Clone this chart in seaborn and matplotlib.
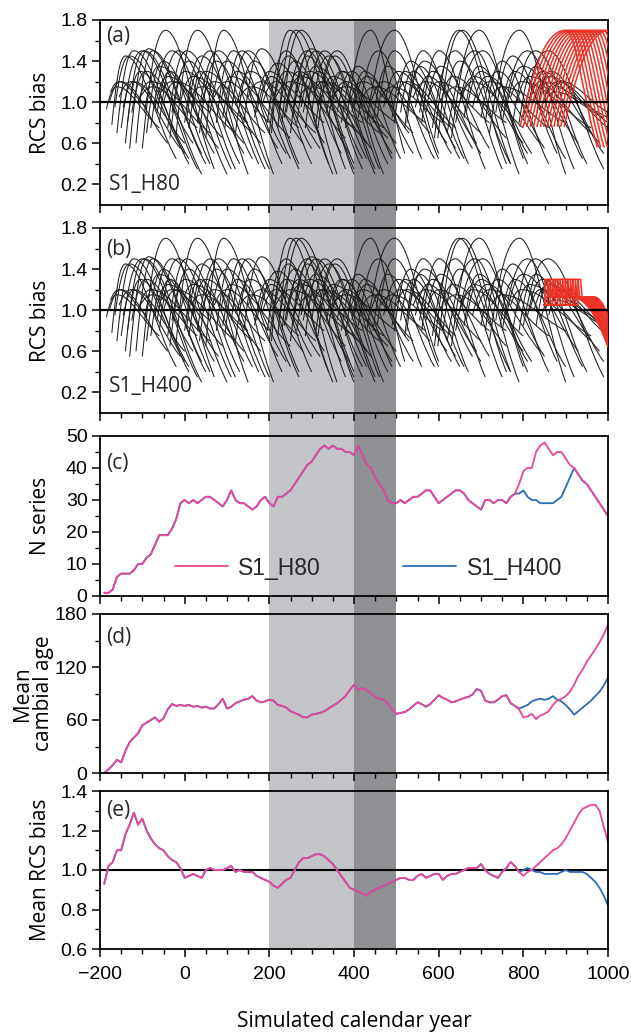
import matplotlib
matplotlib.use("Agg")
import matplotlib.pyplot as plt
import pandas as pd
import seaborn as sns
from matplotlib.path import Path
from matplotlib.patches import PathPatch, Rectangle
from matplotlib.lines import Line2D
from matplotlib.transforms import blended_transform_factory
from matplotlib.ticker import MultipleLocator, FixedLocator, FormatStrFormatter

# -------------------- data --------------------
# individual series in (a)/(b): start, peak and end of each RCS-bias arc
arc_t0 = [-185, -178, -172, -165, -160, -155, -150, -140, -130, -125,
          -115, -110, -100, -95, -80, -70, -60, -50, -40, -30,
          -20, -10, 0, 10, 20, 30, 40, 50, 60, 75,
          85, 95, 110, 125, 140, 150, 165, 180, 195, 205,
          210, 220, 225, 230, 240, 245, 255, 260, 265, 275,
          285, 290, 300, 310, 320, 335, 345, 360, 380, 400,
          410, 430, 440, 455, 470, 480, 495, 510, 520, 530,
          545, 560, 570, 585, 590, 598, 605, 620, 630, 640,
          650, 665, 680, 700, 720, 735, 750, 760, 775, 785,
          800, 810, 825, 840, 850, 860, -175, -145, -105, -55,
          15, 70, 130, 185, 215, 270, 305, 350, 390, 420,
          465, 500, 540, 575, 615, 655, 690, 725, 770, 815,
          -135, -90, -65, -35, 5, 35, 90, 120, 170, 200,
          235, 250, 280, 315, 340, 370, 395, 445, 490, 525,
          555, 610, 660, 710, 745, 790, 830]
arc_v0 = [0.93, 1.0, 0.78, 0.95, 0.7, 1.05, 0.75, 0.6, 0.55, 0.9,
          0.6, 1.0, 0.55, 0.9, 0.75, 0.95, 0.8, 1.0, 0.75, 0.9,
          0.7, 1.0, 0.8, 0.75, 0.95, 0.8, 1.0, 0.65, 0.9, 0.8,
          1.0, 0.75, 0.9, 1.0, 0.8, 1.05, 0.85, 1.0, 0.8, 0.7,
          1.0, 0.75, 0.95, 0.8, 0.9, 1.05, 0.85, 1.0, 0.8, 0.95,
          0.75, 1.05, 0.9, 0.8, 1.0, 0.9, 0.95, 0.9, 0.75, 0.95,
          0.85, 0.8, 1.0, 0.85, 0.95, 1.0, 0.8, 0.9, 0.75, 1.0,
          0.95, 0.8, 0.9, 0.75, 0.65, 0.65, 1.0, 0.7, 0.65, 0.8,
          1.0, 0.9, 0.95, 0.85, 0.7, 0.9, 0.8, 0.95, 0.8, 1.0,
          0.85, 0.95, 1.0, 0.9, 1.0, 0.95, 1.1, 0.95, 1.05, 1.1,
          1.05, 1.05, 1.05, 1.0, 1.05, 1.05, 1.1, 1.05, 1.0, 1.05,
          1.05, 1.05, 1.05, 1.05, 1.05, 1.05, 1.0, 1.05, 1.05, 1.0,
          0.8, 0.7, 0.9, 0.65, 0.85, 0.7, 0.85, 0.7, 0.9, 0.7,
          0.85, 0.7, 0.9, 0.75, 0.85, 0.8, 0.9, 0.8, 0.85, 0.8,
          0.9, 0.8, 0.85, 0.8, 0.85, 0.8, 0.85]
arc_tp = [-160, -150, -140, -130, -120, -125, -100, -95, -85, -90,
          -75, -80, -45, -60, -30, -40, -15, -20, 5, 0,
          30, 20, 40, 60, 50, 80, 70, 92, 100, 115,
          110, 135, 150, 155, 182, 180, 200, 220, 240, 249,
          240, 263, 260, 275, 290, 275, 300, 295, 310, 310,
          330, 320, 340, 360, 350, 370, 380, 395, 439, 430,
          458, 496, 470, 496, 505, 510, 534, 540, 563, 567,
          575, 601, 605, 639, 648, 656, 635, 686, 696, 705,
          685, 700, 715, 740, 791, 775, 810, 800, 829, 815,
          858, 845, 860, 880, 875, 890, -155, -120, -75, -30,
          40, 100, 160, 215, 250, 300, 330, 380, 420, 450,
          490, 525, 570, 600, 640, 680, 720, 750, 795, 840,
          -105, -50, -35, 10, 35, 75, 125, 165, 205, 245,
          270, 290, 315, 355, 375, 410, 425, 480, 520, 555,
          585, 650, 695, 750, 780, 830, 865]
arc_vp = [1.15, 1.2, 1.45, 1.45, 1.5, 1.2, 1.5, 1.5, 1.52, 1.3,
          1.5, 1.2, 1.7, 1.35, 1.5, 1.25, 1.5, 1.2, 1.5, 1.3,
          1.7, 1.25, 1.45, 1.5, 1.3, 1.5, 1.2, 1.7, 1.4, 1.5,
          1.25, 1.5, 1.5, 1.3, 1.52, 1.2, 1.3, 1.38, 1.5, 1.7,
          1.3, 1.7, 1.4, 1.7, 1.5, 1.25, 1.52, 1.3, 1.5, 1.35,
          1.5, 1.2, 1.45, 1.5, 1.25, 1.3, 1.2, 1.3, 1.7, 1.25,
          1.5, 1.7, 1.2, 1.5, 1.3, 1.2, 1.4, 1.3, 1.5, 1.4,
          1.25, 1.5, 1.35, 1.5, 1.7, 1.7, 1.25, 1.5, 1.7, 1.5,
          1.25, 1.3, 1.25, 1.3, 1.7, 1.45, 1.5, 1.35, 1.5, 1.25,
          1.5, 1.3, 1.25, 1.2, 1.1, 1.2, 1.2, 1.2, 1.15, 1.2,
          1.15, 1.2, 1.15, 1.2, 1.2, 1.15, 1.2, 1.15, 1.2, 1.15,
          1.15, 1.2, 1.2, 1.2, 1.15, 1.2, 1.2, 1.15, 1.2, 1.2,
          1.3, 1.4, 1.3, 1.4, 1.3, 1.4, 1.3, 1.4, 1.25, 1.45,
          1.3, 1.45, 1.3, 1.45, 1.3, 1.35, 1.3, 1.35, 1.3, 1.35,
          1.3, 1.4, 1.35, 1.4, 1.3, 1.35, 1.3]
arc_t1 = [-60, -40, -20, 0, 10, -10, 30, 40, 50, 20,
          40, 60, 70, 80, 100, 90, 110, 120, 130, 140,
          150, 160, 160, 175, 180, 200, 190, 210, 220, 230,
          250, 250, 270, 280, 300, 310, 320, 330, 350, 360,
          380, 380, 370, 400, 400, 410, 420, 430, 430, 440,
          450, 460, 450, 470, 480, 490, 500, 490, 520, 530,
          560, 600, 580, 600, 620, 630, 650, 640, 670, 680,
          690, 710, 720, 750, 760, 770, 760, 790, 800, 810,
          800, 820, 840, 850, 900, 880, 920, 930, 950, 960,
          990, 980, 1000, 1000, 990, 1000, -90, 0, 30, 60,
          150, 200, 270, 330, 400, 420, 470, 500, 540, 570,
          610, 640, 700, 720, 760, 800, 860, 900, 960, 1000,
          10, 60, 70, 120, 140, 190, 240, 270, 300, 340,
          390, 400, 420, 460, 480, 510, 540, 590, 630, 660,
          700, 770, 810, 860, 900, 940, 990]
arc_v1 = [0.75, 0.6, 0.45, 0.5, 0.4, 0.55, 0.35, 0.3, 0.4, 0.6,
          0.5, 0.7, 0.35, 0.55, 0.3, 0.65, 0.35, 0.7, 0.4, 0.6,
          0.3, 0.7, 0.45, 0.4, 0.6, 0.35, 0.7, 0.3, 0.55, 0.4,
          0.65, 0.45, 0.35, 0.6, 0.4, 0.7, 0.55, 0.6, 0.3, 0.3,
          0.65, 0.35, 0.5, 0.3, 0.4, 0.7, 0.35, 0.6, 0.45, 0.55,
          0.3, 0.7, 0.35, 0.3, 0.65, 0.5, 0.6, 0.45, 0.5, 0.7,
          0.45, 0.5, 0.7, 0.45, 0.6, 0.75, 0.45, 0.55, 0.4, 0.55,
          0.6, 0.35, 0.55, 0.35, 0.4, 0.4, 0.65, 0.3, 0.45, 0.4,
          0.6, 0.5, 0.6, 0.55, 0.3, 0.5, 0.35, 0.6, 0.4, 0.7,
          0.35, 0.6, 0.75, 0.8, 0.85, 0.9, 0.95, 0.6, 0.75, 0.9,
          0.8, 0.8, 0.75, 0.8, 0.75, 0.8, 0.75, 0.8, 0.7, 0.8,
          0.8, 0.75, 0.7, 0.8, 0.8, 0.75, 0.75, 0.8, 0.75, 0.85,
          0.45, 0.4, 0.5, 0.35, 0.5, 0.35, 0.5, 0.4, 0.55, 0.4,
          0.5, 0.35, 0.45, 0.35, 0.4, 0.45, 0.5, 0.45, 0.5, 0.45,
          0.5, 0.4, 0.5, 0.4, 0.45, 0.45, 0.5]

# red series in (a): hiatus 80 yrs
red_a_t0 = [792, 800, 808, 816, 824, 832, 840, 848, 856, 864, 872, 880, 888, 896]
red_a_v0 = 0.76
red_a_tp = [900, 908, 916, 924, 932, 940, 948, 956, 964, 972, 980, 988, 996, 1004]
red_a_vp = 1.70
red_a_t1 = [975, 983, 991, 999, 1007, 1015, 1023, 1031, 1039, 1047, 1055, 1063, 1071, 1079]
red_a_v1 = 0.56

# red series in (b): hiatus 400 yrs
red_b_start = 848
red_b_base, red_b_top, red_b_shelf = 1.05, 1.30, 1.13
red_b_jump = [851, 857, 863, 869, 875, 881, 887, 893, 899, 905, 911, 917, 923, 929]
red_b_drop = [915, 919, 923, 927, 931, 935, 939, 943, 947, 951, 955, 959, 963, 967]
red_b_end = [0.64, 0.66, 0.68, 0.70, 0.72, 0.74, 0.76, 0.78, 0.80, 0.83, 0.86, 0.89, 0.92, 0.95]

# panels (c)-(e), sampled every 10 years from -190 to 1000
years = list(range(-190, 1001, 10))
n_h80 = [1, 1, 2, 6, 7, 7, 7, 8, 10, 10,
         12, 13, 16, 19, 19, 19, 21, 24, 29, 30,
         29, 30, 29, 30, 31, 31, 30, 29, 28, 30,
         33, 30, 29, 29, 28, 27, 28, 30, 31, 29,
         28, 31, 31, 32, 33, 35, 37, 39, 41, 42,
         44, 46, 47, 46, 47, 46, 46, 45, 45, 44,
         47, 44, 41, 40, 37, 35, 33, 30, 29, 29,
         30, 29, 30, 31, 31, 32, 33, 33, 31, 29,
         30, 31, 32, 33, 33, 32, 30, 29, 28, 27,
         30, 30, 29, 30, 30, 29, 31, 32, 35, 39,
         40, 40, 45, 47, 48, 46, 44, 45, 45, 43,
         41, 40, 38, 36, 35, 33, 31, 29, 27, 25]
age_h80 = [0, 4, 9, 15, 12, 25, 35, 40, 45, 54,
           57, 60, 63, 58, 62, 72, 78, 76, 77, 76,
           77, 75, 76, 74, 75, 73, 73, 78, 84, 73,
           75, 79, 81, 83, 84, 87, 82, 80, 81, 83,
           82, 77, 76, 74, 70, 68, 66, 63, 63, 66,
           67, 68, 70, 73, 76, 79, 83, 87, 94, 100,
           94, 96, 94, 90, 86, 84, 83, 78, 72, 67,
           68, 69, 72, 76, 80, 78, 75, 78, 83, 88,
           85, 83, 80, 81, 83, 85, 86, 89, 95, 93,
           82, 80, 80, 83, 87, 88, 79, 76, 72, 63,
           64, 67, 61, 65, 67, 70, 77, 82, 84, 87,
           92, 100, 110, 117, 126, 133, 140, 148, 157, 168]
bias_h80 = [0.93, 1.02, 1.04, 1.10, 1.10, 1.18, 1.23, 1.29, 1.23, 1.26,
            1.20, 1.16, 1.13, 1.11, 1.10, 1.07, 1.05, 1.04, 1.01, 0.96,
            0.97, 0.98, 0.97, 0.96, 1.00, 1.01, 1.00, 1.00, 1.00, 1.01,
            1.02, 0.99, 1.00, 0.99, 0.99, 0.99, 0.97, 0.96, 0.95, 0.94,
            0.92, 0.91, 0.93, 0.95, 0.96, 1.00, 1.04, 1.06, 1.06, 1.07,
            1.08, 1.08, 1.07, 1.05, 1.03, 1.00, 0.97, 0.94, 0.91, 0.90,
            0.89, 0.88, 0.87, 0.89, 0.90, 0.91, 0.92, 0.93, 0.94, 0.95,
            0.96, 0.96, 0.95, 0.95, 0.97, 0.98, 0.96, 0.97, 0.98, 0.98,
            0.95, 0.97, 0.98, 0.98, 0.99, 1.00, 1.01, 1.01, 1.01, 1.03,
            1.00, 0.98, 0.97, 0.96, 0.99, 1.01, 1.04, 1.02, 0.99, 0.97,
            0.99, 1.00, 1.02, 1.04, 1.06, 1.08, 1.10, 1.11, 1.13, 1.16,
            1.20, 1.24, 1.28, 1.31, 1.32, 1.33, 1.33, 1.30, 1.22, 1.14]
# S1_H400 only departs from S1_H80 from year 790 on
split_year = 790
n_h400_tail = [32, 33, 31, 30, 30, 29, 29, 29, 29, 30, 31,
               34, 37, 40, 38, 36, 35, 33, 31, 29, 27, 25]
age_h400_tail = [73, 75, 77, 81, 83, 84, 83, 84, 87, 83, 81,
                 77, 72, 66, 70, 74, 78, 82, 87, 92, 99, 108]
bias_h400_tail = [0.99, 1.00, 1.01, 1.00, 0.99, 0.99, 0.98, 0.98, 0.98, 0.98, 0.99,
                  1.00, 0.99, 0.99, 0.99, 0.99, 0.98, 0.96, 0.94, 0.91, 0.87, 0.82]

shade_light = (200, 400)
shade_dark = (400, 500)
# -------------------------------------------------------------------

PINK = '#e8479a'
BLUE = '#2d6bb7'
RED = '#ee3124'
LABEL_FONT = ['Open Sans', 'DejaVu Sans']


def arc_path(t0, v0, tp, vp, t1, v1):
    """Rise to the peak and fall back, as two cubic Bezier pieces."""
    lr, dr = tp - t0, vp - v0
    lf, df = t1 - tp, vp - v1
    verts = [(t0, v0),
             (t0 + 0.3 * lr, v0 + 0.6 * dr), (tp - 0.45 * lr, vp), (tp, vp),
             (tp + 0.33 * lf, vp), (tp + 0.6 * lf, v1 + 0.35 * df), (t1, v1)]
    codes = [Path.MOVETO] + [Path.CURVE4] * 6
    return Path(verts, codes)


def step_path(t_jump, t_drop, v_end):
    verts = [(red_b_start, red_b_base), (t_jump, red_b_base), (t_jump, red_b_top),
             (t_jump + 6, red_b_top), (t_jump + 10, red_b_shelf), (t_drop, red_b_shelf),
             ((t_drop + 1000) / 2, red_b_shelf), (1000, v_end)]
    codes = [Path.MOVETO] + [Path.LINETO] * 5 + [Path.CURVE3] * 2
    return Path(verts, codes)


def long_frame(h80, tail):
    idx = years.index(split_year)
    h400 = h80[:idx] + tail
    return pd.DataFrame({
        'year': years * 2,
        'value': h400 + h80,
        'run': ['S1_H400'] * len(years) + ['S1_H80'] * len(years),
    })


sns.set_theme(style="ticks")
plt.rcParams['font.family'] = ['Liberation Sans', 'DejaVu Sans']
plt.rcParams['axes.linewidth'] = 1.3

fig = plt.figure(figsize=(6.31, 10.34), dpi=100)
W, H = 631, 1034
left, width = 100 / W, 508 / W
rows = [(20, 205), (228, 413), (436, 596), (614, 773), (791, 949)]
axes = [fig.add_axes([left, 1 - b / H, width, (b - t) / H]) for t, b in rows]
ax_a, ax_b, ax_c, ax_d, ax_e = axes

# shaded periods run through all panels and the gaps between them
trans = blended_transform_factory(ax_e.transData, fig.transFigure)
y_lo, y_hi = 1 - rows[-1][1] / H, 1 - rows[0][0] / H
for (x0, x1), col in [(shade_light, '#c3c4c8'), (shade_dark, '#8f9094')]:
    fig.add_artist(Rectangle((x0, y_lo), x1 - x0, y_hi - y_lo, transform=trans,
                             facecolor=col, edgecolor='none', zorder=-1))

for ax in axes:
    ax.set_facecolor('none')
    ax.set_xlim(-200, 1000)
    ax.xaxis.set_major_locator(MultipleLocator(200))
    ax.xaxis.set_minor_locator(MultipleLocator(50))
    ax.tick_params(which='major', direction='out', length=6, width=1.1,
                   labelsize=14, color='black', labelcolor='black', pad=3)
    ax.tick_params(which='minor', direction='out', length=3.5, width=1.0, color='black')
    ax.tick_params(axis='x', labelbottom=False, pad=6)
    for sp in ax.spines.values():
        sp.set_visible(True)
        sp.set_color('black')

# ---- (a) and (b): individual series ----
black_arcs = list(zip(arc_t0, arc_v0, arc_tp, arc_vp, arc_t1, arc_v1))
assert len(black_arcs) == len(arc_t0) == len(arc_v1) == len(arc_vp)
for ax in (ax_a, ax_b):
    for t0, v0, tp, vp, t1, v1 in black_arcs:
        ax.add_patch(PathPatch(arc_path(t0, v0, tp, vp, t1, v1), facecolor='none',
                               edgecolor='#1e1e1e', lw=0.75, zorder=2))
    ax.set_ylim(0, 1.8)
    ax.yaxis.set_major_locator(FixedLocator([0.2, 0.6, 1.0, 1.4, 1.8]))
    ax.yaxis.set_minor_locator(FixedLocator([0.4, 0.8, 1.2, 1.6]))
    ax.yaxis.set_major_formatter(FormatStrFormatter('%.1f'))
    ax.axhline(1.0, color='black', lw=1.6, zorder=5)
    ax.set_ylabel('RCS bias', fontsize=15, family=LABEL_FONT, color='black')

for t0, tp, t1 in zip(red_a_t0, red_a_tp, red_a_t1):
    ax_a.add_patch(PathPatch(arc_path(t0, red_a_v0, tp, red_a_vp, t1, red_a_v1),
                             facecolor='none', edgecolor=RED, lw=1.1, zorder=3))
for tj, td, ve in zip(red_b_jump, red_b_drop, red_b_end):
    ax_b.add_patch(PathPatch(step_path(tj, td, ve), facecolor='none',
                             edgecolor=RED, lw=1.1, zorder=3))

ax_a.text(0.018, 0.2, 'S1_H80', fontsize=15, family=LABEL_FONT, va='center',
          transform=blended_transform_factory(ax_a.transAxes, ax_a.transData))
ax_b.text(0.018, 0.26, 'S1_H400', fontsize=15, family=LABEL_FONT, va='center',
          transform=blended_transform_factory(ax_b.transAxes, ax_b.transData))

# ---- (c)-(e): summary series ----
palette = {'S1_H80': PINK, 'S1_H400': BLUE}
order = ['S1_H400', 'S1_H80']
sns.lineplot(data=long_frame(n_h80, n_h400_tail), x='year', y='value', hue='run',
             hue_order=order, palette=palette, lw=1.3, legend=False, ax=ax_c)
sns.lineplot(data=long_frame(age_h80, age_h400_tail), x='year', y='value', hue='run',
             hue_order=order, palette=palette, lw=1.3, legend=False, ax=ax_d)
sns.lineplot(data=long_frame(bias_h80, bias_h400_tail), x='year', y='value', hue='run',
             hue_order=order, palette=palette, lw=1.3, legend=False, ax=ax_e)
for ax in axes:
    ax.set_xlabel('')

ax_c.set_ylim(0, 50)
ax_c.yaxis.set_major_locator(MultipleLocator(10))
ax_c.yaxis.set_minor_locator(MultipleLocator(5))
ax_c.set_ylabel('N series', fontsize=15, family=LABEL_FONT, color='black')
handles = [Line2D([], [], color=PINK, lw=1.3), Line2D([], [], color=BLUE, lw=1.3)]
ax_c.legend(handles, ['S1_H80', 'S1_H400'], loc='center left', bbox_to_anchor=(0.13, 0.175),
            ncol=2, frameon=False, fontsize=16.5, handlelength=2.3,
            handletextpad=0.45, columnspacing=3.6, borderaxespad=0)

ax_d.set_ylim(0, 180)
ax_d.yaxis.set_major_locator(MultipleLocator(60))
ax_d.yaxis.set_minor_locator(MultipleLocator(30))
ax_d.set_ylabel('Mean\ncambial age', fontsize=15, family=LABEL_FONT, linespacing=1.0,
                color='black')

ax_e.set_ylim(0.6, 1.4)
ax_e.yaxis.set_major_locator(MultipleLocator(0.2))
ax_e.yaxis.set_minor_locator(MultipleLocator(0.1))
ax_e.yaxis.set_major_formatter(FormatStrFormatter('%.1f'))
ax_e.axhline(1.0, color='black', lw=1.5, zorder=1)
ax_e.set_ylabel('Mean RCS bias', fontsize=15, family=LABEL_FONT, color='black')
ax_e.tick_params(axis='x', labelbottom=True)

# x-axis title, centred under the plotting area
fig.text(left + width / 2, 1 - 1022 / H, 'Simulated calendar year', fontsize=15,
         family=LABEL_FONT, color='black', ha='center', va='center')

for ax in axes:
    ax.yaxis.set_label_coords(-0.097, 0.5)
ax_d.yaxis.set_label_coords(-0.09, 0.5)

letters = ['(a)', '(b)', '(c)', '(d)', '(e)']
letter_y = [0.965, 0.94, 0.895, 0.92, 0.94]
for ax, lab, ly in zip(axes, letters, letter_y):
    ax.text(0.012, ly, lab, transform=ax.transAxes, fontsize=15,
            family=LABEL_FONT, va='top', ha='left', zorder=6)

fig.savefig('out.png', dpi=100)
